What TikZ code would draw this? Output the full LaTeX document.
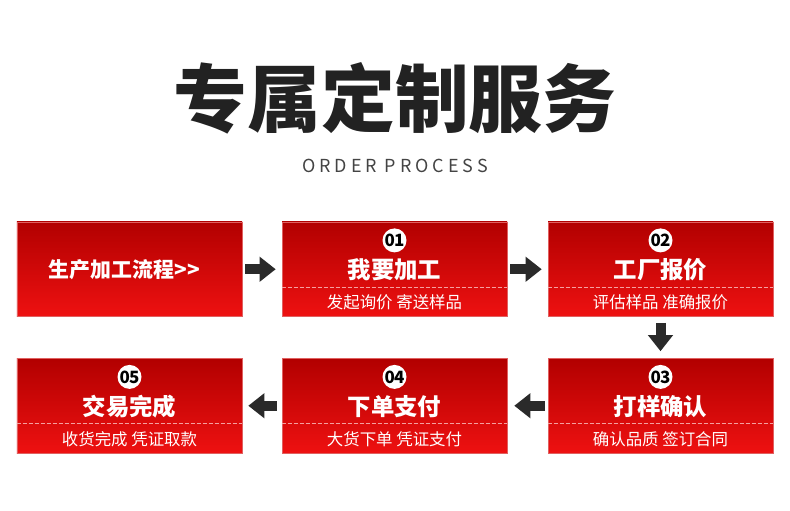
\documentclass[tikz,border=0pt]{standalone}
\usepackage{fontspec}
\setmainfont{Noto Sans CJK SC}
\newfontfamily\spacedfont{Noto Sans CJK SC}[LetterSpace=22]
\newfontfamily\numfont{Noto Sans CJK SC}[LetterSpace=-6]
\usetikzlibrary{arrows.meta}
\definecolor{redtop}{HTML}{B20000}
\definecolor{redbot}{HTML}{EE1111}
\definecolor{boxedge}{HTML}{E06060}
\definecolor{dashpink}{HTML}{F4A0A0}
\definecolor{arrowgray}{HTML}{2A2A2A}
\definecolor{titlegray}{HTML}{222222}
\definecolor{subgray}{HTML}{444444}
\begin{document}
\begin{tikzpicture}[x=1bp,y=-1bp,
  box/.style={minimum width=225bp, minimum height=94.5bp, inner sep=0pt, top color=redtop, bottom color=redbot, draw=boxedge, line width=0.6bp},
  num/.style={circle, fill=white, minimum size=24bp, inner sep=0pt, font=\numfont\bfseries\fontsize{17}{17}\selectfont, text=black},
  ttl/.style={text=white, font=\bfseries\fontsize{23.5}{23.5}\selectfont, inner sep=0pt},
  sub/.style={text=white, font=\fontsize{16.5}{16.5}\selectfont, inner sep=0pt},
  dline/.style={draw=dashpink, line width=0.8bp, dash pattern=on 4bp off 2bp},
  fat/.style={draw=arrowgray, line width=10bp, -{Triangle[width=24bp,length=16bp]}}
]
\fill[white] (0,0) rectangle (790,511);
\useasboundingbox (0,0) rectangle (790,511);

\node[font=\bfseries\fontsize{74}{74}\selectfont, text=titlegray, inner sep=0pt] (title) at (395,98) {专属定制服务};
\node[font=\spacedfont\fontsize{18}{18}\selectfont, text=subgray, inner sep=0pt] (eng) at (395,166) {ORDER PROCESS};

% row 1
\node[box] (b1) at (129.5,269.25) {};
\node[box] (b2) at (394.5,269.25) {};
\node[box] (b3) at (660.5,269.25) {};
% row 2
\node[box] (b5) at (129.5,405.75) {};
\node[box] (b4) at (394.5,405.75) {};
\node[box] (b3r) at (660.5,405.75) {};

\node[text=white, font=\bfseries\fontsize{21}{21}\selectfont, inner sep=0pt] (t0) at (124.5,270) {生产加工流程>{}>};

\foreach \b/\n/\t/\s in {b2/01/我要加工/发起询价 寄送样品, b3/02/工厂报价/评估样品 准确报价, b3r/03/打样确认/确认品质 签订合同, b4/04/下单支付/大货下单 凭证支付, b5/05/交易完成/收货完成 凭证取款}{
  \draw[dline] ([yshift=-65.3bp]\b.north west) -- ([yshift=-65.3bp]\b.north east);
  \node[num] (n\b) at ([yshift=-18.7bp]\b.north) {\n};
  \node[ttl] (t\b) at ([yshift=-48bp]\b.north) {\t};
  \node[sub] (s\b) at ([yshift=-80.7bp]\b.north) {\s};
}

\draw[fat, shorten <=3bp, shorten >=6bp] (b1.east) -- (b2.west);
\draw[fat, shorten <=3bp, shorten >=6bp] (b2.east) -- (b3.west);
\draw[fat, shorten <=6bp, shorten >=7bp] (b3.south) -- (b3r.north);
\draw[fat, shorten <=3bp, shorten >=7bp] (b3r.west) -- (b4.east);
\draw[fat, shorten <=5bp, shorten >=6bp] (b4.west) -- (b5.east);
\end{tikzpicture}
\end{document}
